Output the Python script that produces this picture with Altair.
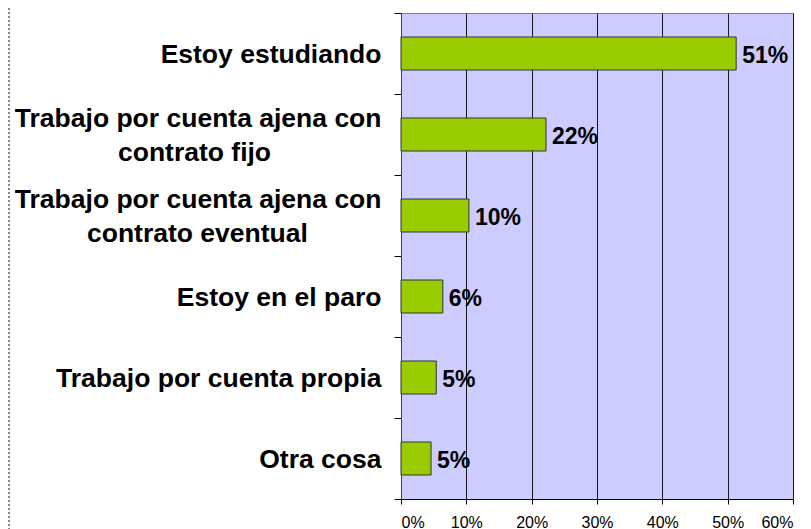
import altair as alt
import pandas as pd

categories = [
    "Estoy estudiando",
    "Trabajo por cuenta ajena con|contrato fijo",
    "Trabajo por cuenta ajena con|contrato eventual",
    "Estoy en el paro",
    "Trabajo por cuenta propia",
    "Otra cosa",
]
values = [0.513, 0.222, 0.104, 0.064, 0.054, 0.046]
x_ticks = [0, 0.1, 0.2, 0.3, 0.4, 0.5, 0.6]

NB = "\u00a0"
ZW = "\u200b"
# trailing no-break spaces (closed by a zero-width char so they are not trimmed)
# so that the second line sits centred under the first
pads = [0, 15, 10, 0, 0, 0]
labels = []
for c, p in zip(categories, pads):
    labels.append(c + (NB * p + ZW if p else ""))

df = pd.DataFrame({"cat": labels, "v": values})

FONT = "Liberation Sans"

label_expr = (
    "indexof(datum.label, '|') >= 0 ? "
    "[split(datum.label, '|')[0], '" + ZW + "', split(datum.label, '|')[1]] : "
    "['" + ZW + "', datum.label]"
)

y_enc = alt.Y(
    "cat:N",
    sort=labels,
    title=None,
    scale=alt.Scale(paddingInner=0, paddingOuter=0),
    axis=alt.Axis(
        labelExpr=label_expr,
        labelFont=FONT,
        labelFontSize=26.5,
        labelFontWeight="bold",
        labelColor="#000000",
        labelLineHeight=17,
        labelOffset=-16,
        labelPadding=13,
        labelLimit=400,
        tickSize=7,
        tickColor="#000000",
        tickBand="extent",
        domainColor="#404040",
        grid=False,
    ),
)

x_enc = alt.X(
    "v:Q",
    title=None,
    scale=alt.Scale(domain=[0, 0.6], nice=False),
    axis=alt.Axis(
        values=x_ticks,
        format=".0%",
        labelFont=FONT,
        labelFontSize=16,
        labelColor="#000000",
        labelPadding=10,
        tickSize=5,
        tickColor="#000000",
        domainColor="#000000",
        grid=True,
        gridColor="#1a1a1a",
        gridWidth=1,
    ),
)

bars = alt.Chart(df).mark_bar(
    color="#99cc00", stroke="#333333", strokeWidth=1, size=33
).encode(x=x_enc, y=y_enc)

text = alt.Chart(df).mark_text(
    align="left", baseline="middle", dx=6, dy=2,
    fontSize=23, fontWeight="bold", font=FONT, color="#000000"
).encode(
    x=alt.X("v:Q"),
    y=alt.Y("cat:N", sort=labels),
    text=alt.Text("v:Q", format=".0%"),
)

border = alt.Chart(df).mark_rule(
    color="#888888", strokeDash=[2, 2], strokeWidth=1
).encode(x=alt.value(-392), y=alt.value(-5), y2=alt.value(530))

chart = alt.layer(bars, text, border).properties(
    width=392,
    height=486,
    autosize=alt.AutoSizeParams(type="none"),
    padding={"left": 393, "top": 5, "right": 10, "bottom": 40},
).configure_view(
    fill="#ccccff", stroke="#808080", strokeWidth=1
)

chart.save("out.html", embed_options={"renderer": "svg", "actions": False})
